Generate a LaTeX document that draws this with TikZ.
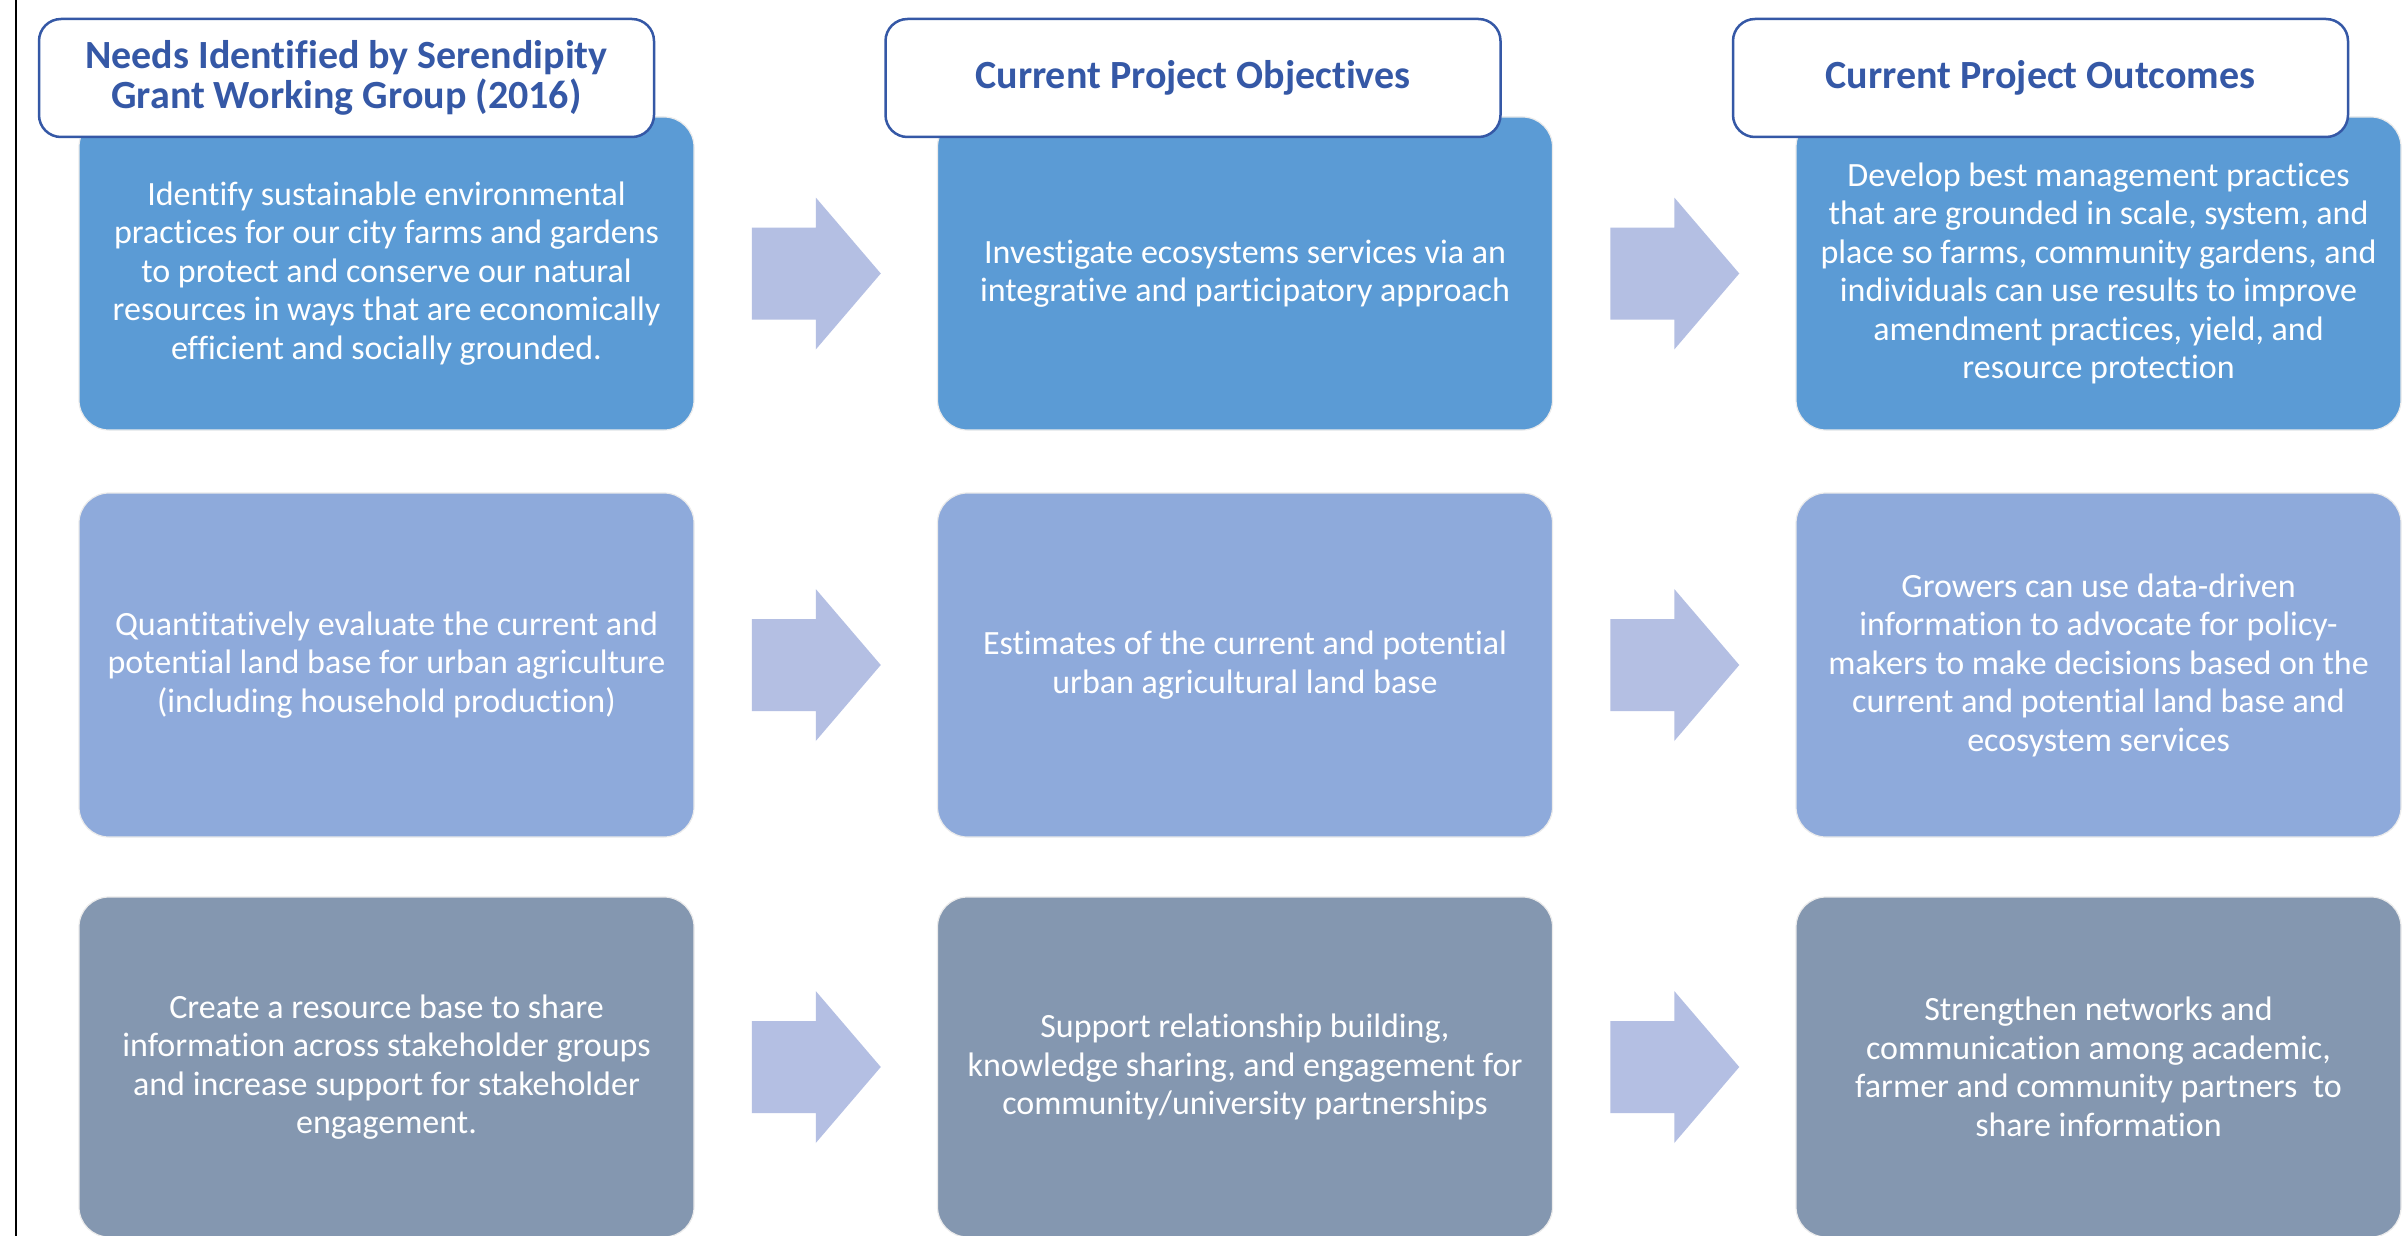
\documentclass[tikz,border=0pt]{standalone}
\usepackage{fontspec}
\setmainfont{Carlito}[Ligatures={NoCommon,NoContextual}]
\usetikzlibrary{calc}
\definecolor{rowA}{HTML}{5B9BD5}
\definecolor{rowB}{HTML}{8EAADB}
\definecolor{rowC}{HTML}{8497B0}
\definecolor{arrowc}{HTML}{B4BFE3}
\definecolor{headc}{HTML}{3558A6}
\tikzset{
  box/.style={rectangle, rounded corners=30pt, draw=black!8, line width=1.2pt,
    text=white, align=center, minimum width=615pt, inner sep=0pt,
    font=\fontsize{34}{38.5}\selectfont},
  headbox/.style={rectangle, rounded corners=22pt, draw=headc, line width=2.5pt,
    fill=white, text=headc, align=center, minimum width=615pt, minimum height=118pt,
    inner sep=0pt, font=\fontsize{40}{40}\selectfont\bfseries},
  barrow/.style={fill=arrowc}
}
\newcommand\blockarrow[1]{%
  \fill[barrow] ($(#1)+(-64,-46)$) -- ($(#1)+(0,-46)$) -- ($(#1)+(0,-76)$) --
    ($(#1)+(65,0)$) -- ($(#1)+(0,76)$) -- ($(#1)+(0,46)$) -- ($(#1)+(-64,46)$) -- cycle;}
\begin{document}
\begin{tikzpicture}[x=1pt,y=-1pt]
\useasboundingbox (0,0) rectangle (2403,1236);
\fill[white] (0,0) rectangle (2403,1236);
\draw[line width=2.5pt] (16,0) -- (16,1236);
% row 1
\node[box, fill=rowA, minimum height=313pt] (b11) at (386.5,273.5)
  {Identify sustainable environmental\\practices for our city farms and gardens\\to protect and conserve our natural\\resources in ways that are economically\\efficient and socially grounded.};
\node[box, fill=rowA, minimum height=313pt] (b12) at (1245,273.5)
  {Investigate ecosystems services via an\\integrative and participatory approach};
\node[box, fill=rowA, minimum height=313pt, minimum width=605pt] (b13) at (2098.5,273.5)
  {Develop best management practices\\that are grounded in scale, system, and\\place so farms, community gardens, and\\individuals can use results to improve\\amendment practices, yield, and\\resource protection};
% row 2
\node[box, fill=rowB, minimum height=344pt] (b21) at (386.5,665)
  {Quantitatively evaluate the current and\\potential land base for urban agriculture\\(including household production)};
\node[box, fill=rowB, minimum height=344pt] (b22) at (1245,665)
  {Estimates of the current and potential\\urban agricultural land base};
\node[box, fill=rowB, minimum height=344pt, minimum width=605pt] (b23) at (2098.5,665)
  {Growers can use data-driven\\information to advocate for policy-\\makers to make decisions based on the\\current and potential land base and\\ecosystem services};
% row 3
\node[box, fill=rowC, minimum height=340pt] (b31) at (386.5,1067)
  {Create a resource base to share\\information across stakeholder groups\\and increase support for stakeholder\\engagement.};
\node[box, fill=rowC, minimum height=340pt] (b32) at (1245,1067)
  {Support relationship building,\\knowledge sharing, and engagement for\\community/university partnerships};
\node[box, fill=rowC, minimum height=340pt, minimum width=605pt] (b33) at (2098.5,1067)
  {Strengthen networks and\\communication among academic,\\farmer and community partners\ \ to\\share information};
% headers
\node[headbox] (h1) at (346.5,78) {Needs Identified by Serendipity\\Grant Working Group (2016)};
\node[headbox] (h2) at (1193,78) {Current Project Objectives};
\node[headbox] (h3) at (2040.5,78) {Current Project Outcomes};
% arrows
\foreach \r in {1,2,3}{
  \coordinate (m\r a) at ($(b\r1.east)!0.5!(b\r2.west)$);
  \coordinate (m\r b) at ($(b\r2.east)!0.5!(b\r3.west)$);
  \blockarrow{m\r a}
  \blockarrow{m\r b}
}
\end{tikzpicture}
\end{document}
